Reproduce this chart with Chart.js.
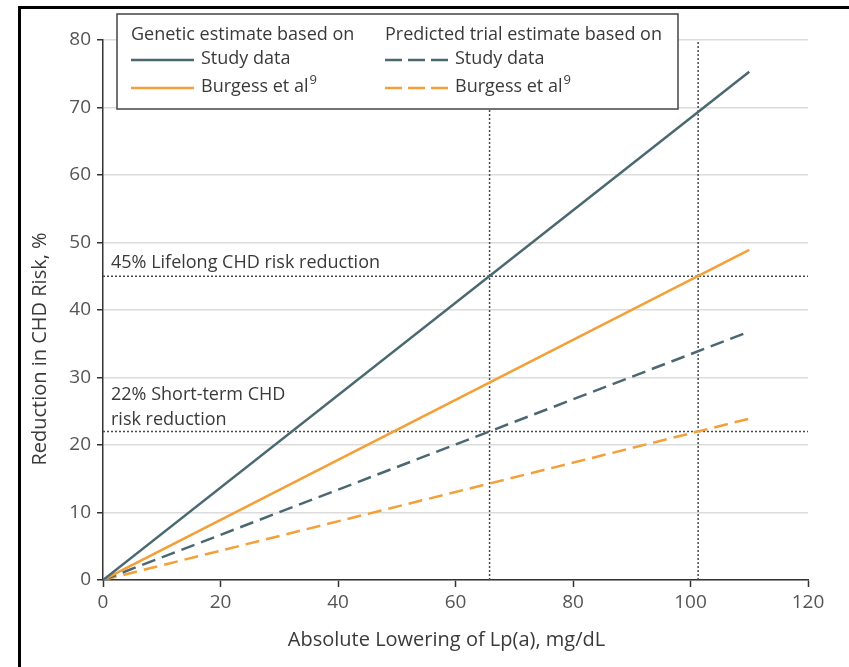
<!DOCTYPE html>
<html>
<head>
<meta charset="utf-8">
<script src="https://cdn.jsdelivr.net/npm/chart.js@4"></script>
<style>
  body { margin: 0; background: #fff; }
  #chart { display: block; }
</style>
</head>
<body>
<canvas id="chart" width="849" height="667"></canvas>
<script>
// Datos
const lowering = [0, 110];            // mg/dL
const geneticStudy = [0, 75.3];       // %
const geneticBurgess = [0, 48.9];
const trialStudy = [0, 36.8];
const trialBurgess = [0, 23.9];

const lifelongRisk = 45;
const shortTermRisk = 22;
const loweringStudy = 65.8;
const loweringBurgess = 101.3;

const groupTitles = ["Genetic estimate based on", "Predicted trial estimate based on"];
const sourceLabels = ["Study data", "Burgess et al"];
const sourceRef = "9";
const refLabels = ["45% Lifelong CHD risk reduction", "22% Short-term CHD", "risk reduction"];
const xTitle = "Absolute Lowering of Lp(a), mg/dL";
const yTitle = "Reduction in CHD Risk, %";

const xTicks = [0, 20, 40, 60, 80, 100, 120];
const yTicks = [0, 10, 20, 30, 40, 50, 60, 70, 80];

const SLATE = "#4b6871";
const ORANGE = "#f4a03a";
const DOT = "#4a4a4a";
const TEXT = "#3a3a3a";
const FONT = "'Open Sans', sans-serif";

function pts(xs, ys) {
  return xs.map((x, i) => ({ x: x, y: ys[i] }));
}

const xMin = xTicks[0], xMax = xTicks[xTicks.length - 1];
const yMin = yTicks[0], yMax = yTicks[yTicks.length - 1];

const datasets = [
  { label: sourceLabels[0], group: 0, data: pts(lowering, geneticStudy), borderColor: SLATE, borderWidth: 2.5 },
  { label: sourceLabels[1], group: 0, data: pts(lowering, geneticBurgess), borderColor: ORANGE, borderWidth: 2.5 },
  { label: sourceLabels[0], group: 1, data: pts(lowering, trialStudy), borderColor: SLATE, borderWidth: 2.5, borderDash: [14, 7] },
  { label: sourceLabels[1], group: 1, data: pts(lowering, trialBurgess), borderColor: ORANGE, borderWidth: 2.5, borderDash: [14, 7] },
  // lineas de referencia punteadas
  { label: "ref", data: pts([xMin, xMax], [lifelongRisk, lifelongRisk]), borderColor: DOT, borderWidth: 1.5, borderDash: [2, 2] },
  { label: "ref", data: pts([xMin, xMax], [shortTermRisk, shortTermRisk]), borderColor: DOT, borderWidth: 1.5, borderDash: [2, 2] },
  { label: "ref", data: pts([loweringStudy, loweringStudy], [yMin, yMax]), borderColor: DOT, borderWidth: 1.5, borderDash: [2, 2] },
  { label: "ref", data: pts([loweringBurgess, loweringBurgess], [yMin, yMax]), borderColor: DOT, borderWidth: 1.5, borderDash: [2, 2] },
];
datasets.forEach((d) => {
  d.pointRadius = 0;
  d.fill = false;
  d.tension = 0;
});

// Marco, titulos de ejes, textos de referencia y leyenda en dos columnas
const extrasPlugin = {
  id: "extras",
  afterDatasetsDraw(chart) {
    const ctx = chart.ctx;
    const xs = chart.scales.x;
    const ys = chart.scales.y;
    const area = chart.chartArea;
    ctx.save();

    // titulos de ejes
    ctx.fillStyle = TEXT;
    ctx.textBaseline = "middle";
    ctx.textAlign = "center";
    ctx.font = "20px " + FONT;
    ctx.fillText(xTitle, (area.left + area.right) / 2 - 9, area.bottom + 60);
    ctx.save();
    ctx.translate(40, (area.top + area.bottom) / 2 + 39);
    ctx.rotate(-Math.PI / 2);
    ctx.font = "20px " + FONT;
    ctx.fillText(yTitle, 0, 0);
    ctx.restore();

    // textos de referencia
    ctx.font = "18px " + FONT;
    ctx.textAlign = "left";
    const tx = xs.getPixelForValue(xMin) + 8;
    ctx.fillText(refLabels[0], tx, ys.getPixelForValue(lifelongRisk) - 13);
    ctx.fillText(refLabels[1], tx, ys.getPixelForValue(shortTermRisk) - 37);
    ctx.fillText(refLabels[2], tx, ys.getPixelForValue(shortTermRisk) - 12);

    // leyenda
    const bx = area.left + 14, by = area.top - 26, bw = 561, bh = 95;
    ctx.fillStyle = "#fff";
    ctx.fillRect(bx, by, bw, bh);
    ctx.strokeStyle = "#444";
    ctx.lineWidth = 1.5;
    ctx.strokeRect(bx, by, bw, bh);

    const colX = [bx + 14, bx + 268];
    const rowY = [by + 21, by + 45, by + 73];
    ctx.fillStyle = TEXT;
    ctx.font = "18px " + FONT;
    groupTitles.forEach((t, i) => ctx.fillText(t, colX[i], rowY[0]));

    datasets.slice(0, 4).forEach((d, i) => {
      const col = d.group;
      const row = (i % 2) + 1;
      const x0 = colX[col], y0 = rowY[row];
      ctx.strokeStyle = d.borderColor;
      ctx.lineWidth = 2.5;
      ctx.setLineDash(d.borderDash ? [17, 6] : []);
      ctx.beginPath();
      ctx.moveTo(x0, y0 + 1);
      ctx.lineTo(x0 + 63, y0 + 1);
      ctx.stroke();
      ctx.setLineDash([]);
      ctx.fillStyle = TEXT;
      ctx.font = "18px " + FONT;
      ctx.fillText(d.label, x0 + 70, y0);
      if (row === 2) {
        const w = ctx.measureText(d.label).width;
        ctx.font = "13px " + FONT;
        ctx.fillText(sourceRef, x0 + 71 + w, y0 - 7);
      }
    });

    // marco negro de la figura
    ctx.strokeStyle = "#000";
    ctx.lineWidth = 3;
    ctx.strokeRect(19.5, 7.5, 900, 720);
    ctx.restore();
  },
};

new Chart(document.getElementById("chart"), {
  type: "line",
  data: { datasets: datasets },
  plugins: [extrasPlugin],
  options: {
    responsive: false,
    animation: false,
    layout: { padding: { left: 0, right: 41, top: 40, bottom: 0 } },
    plugins: { legend: { display: false }, tooltip: { enabled: false } },
    scales: {
      x: {
        type: "linear",
        min: xMin,
        max: xMax,
        afterFit: (s) => { s.height = 87; },
        afterBuildTicks: (s) => { s.ticks = xTicks.map((v) => ({ value: v })); },
        ticks: { color: "#555", font: { family: FONT, size: 19 }, padding: 4 },
        grid: { drawOnChartArea: false, tickLength: 7, tickColor: "#333", tickWidth: 1.5 },
        border: { color: "#333", width: 1.5 },
      },
      y: {
        type: "linear",
        min: yMin,
        max: yMax,
        afterFit: (s) => { s.width = 103; },
        afterBuildTicks: (s) => { s.ticks = yTicks.map((v) => ({ value: v })); },
        ticks: { color: "#555", font: { family: FONT, size: 19 }, padding: 6 },
        grid: { color: "#dcdcdc", lineWidth: 1.5, tickLength: 6, tickColor: "#333", tickWidth: 1.5 },
        border: { color: "#333", width: 1.5 },
      },
    },
  },
});
</script>
</body>
</html>
